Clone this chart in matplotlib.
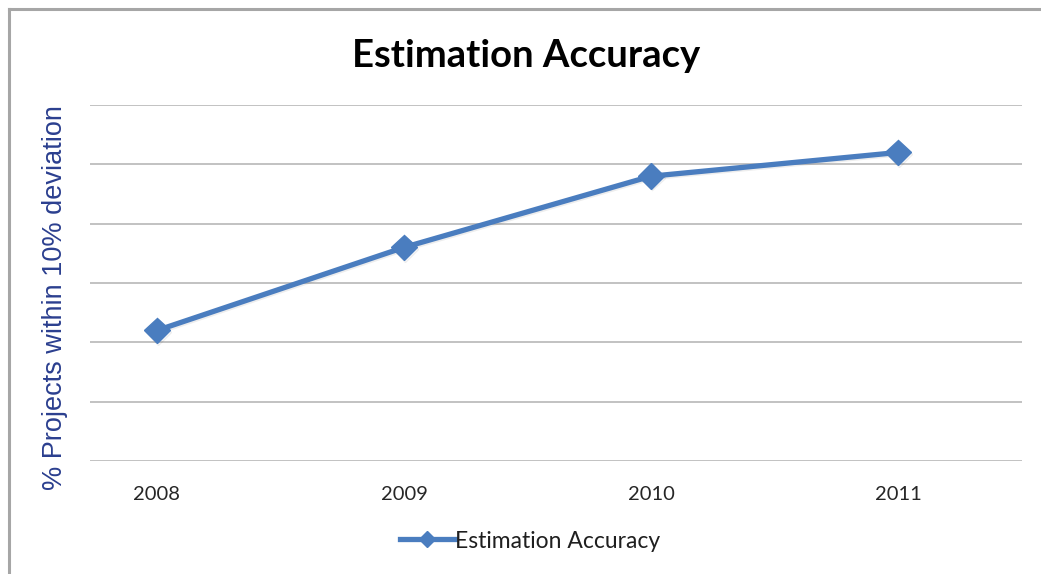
import matplotlib
matplotlib.use("Agg")
import matplotlib.pyplot as plt
from matplotlib.lines import Line2D
import matplotlib.patheffects as pe

years = ["2008", "2009", "2010", "2011"]
accuracy = [22, 36, 48, 52]
y_grid = [0, 10, 20, 30, 40, 50, 60]

fig = plt.figure(figsize=(10.41, 5.74), dpi=100)
fig.patch.set_facecolor("white")

# outer border (top and left)
fig.add_artist(Line2D([9/1041, 9/1041], [0, 1 - 9/574], transform=fig.transFigure,
                      color="#A6A6A6", lw=2.2))
fig.add_artist(Line2D([9/1041, 1], [1 - 9/574, 1 - 9/574], transform=fig.transFigure,
                      color="#A6A6A6", lw=2.2))

ax = fig.add_axes([90/1041, 1 - 461/574, (1022 - 90)/1041, (461 - 105)/574])
x = list(range(len(years)))
color = "#4A7DBF"
ax.plot(x, accuracy, color=color, lw=3.8, marker="D", markersize=13,
        label="Estimation Accuracy", zorder=3,
        path_effects=[pe.SimpleLineShadow(offset=(1.0, -1.0), alpha=0.07), pe.Normal()])
ax.set_xlim(-0.271, 3.502)
ax.set_ylim(0, 60)
ax.set_yticks(y_grid)
ax.set_yticklabels([])
ax.tick_params(axis="y", length=0)
ax.grid(axis="y", color="#BDBDBD", lw=1.3)
ax.set_axisbelow(True)
ax.set_xticks(x)
ax.set_xticklabels(years, fontsize=14.5, color="#262626", family="Lato")
ax.tick_params(axis="x", length=0, pad=18)
for s in ax.spines.values():
    s.set_visible(False)

fig.text(526/1041, 1 - 56/574, "Estimation Accuracy", ha="center", va="center",
         fontsize=27.5, fontweight="bold", family="Lato", color="black")
fig.text(55/1041, 1 - 298/574, "% Projects within 10% deviation", ha="center", va="center",
         rotation=90, fontsize=19.5, family="Liberation Sans", color="#2B3F8F")

leg = fig.legend(handles=[Line2D([0], [0], color=color, lw=3.8, marker="D", markersize=8)],
                 labels=["Estimation Accuracy"], loc="center", bbox_to_anchor=(530/1041, 1 - 541/574),
                 frameon=False, prop={"family": "Lato", "size": 16.5}, handlelength=2.4,
                 handletextpad=0.0)
for t in leg.get_texts():
    t.set_color("#1F1F1F")

fig.savefig("out.png", dpi=100)
